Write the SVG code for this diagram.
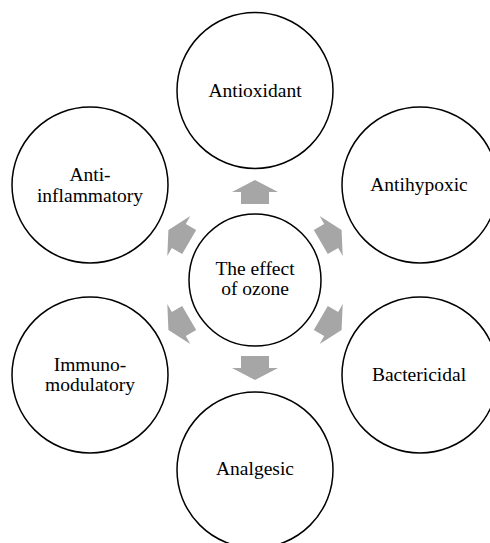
<svg xmlns="http://www.w3.org/2000/svg" width="490" height="543" viewBox="0 0 490 543">
<style>
.node circle{fill:#fff;stroke:#000;stroke-width:1.5}
.node text{font-family:"Liberation Serif","Times New Roman",serif;font-size:19.5px;fill:#000;text-anchor:middle}
.arr{fill:#a6a6a6}
</style>
<defs>
<polygon id="arrow" points="0,-12 23,0 14,0 14,12 -14,12 -14,0 -23,0"/>
</defs>
<rect width="490" height="543" fill="#fff"/>
<g id="connectors" class="arr">
<use href="#arrow" transform="translate(255,192)"/>
<use href="#arrow" transform="translate(331.2,236) rotate(60)"/>
<use href="#arrow" transform="translate(331.2,324) rotate(120)"/>
<use href="#arrow" transform="translate(255,368) rotate(180)"/>
<use href="#arrow" transform="translate(178.8,324) rotate(240)"/>
<use href="#arrow" transform="translate(178.8,236) rotate(300)"/>
</g>
<g id="center" class="node">
<circle cx="255" cy="280" r="66"/>
<text x="255" y="275">The effect</text>
<text x="255" y="295">of ozone</text>
</g>
<g id="antioxidant" class="node">
<circle cx="255" cy="90.5" r="78"/>
<text x="255" y="97">Antioxidant</text>
</g>
<g id="antihypoxic" class="node">
<circle cx="420" cy="185" r="78"/>
<text x="419" y="191">Antihypoxic</text>
</g>
<g id="bactericidal" class="node">
<circle cx="420" cy="375" r="78"/>
<text x="419" y="381">Bactericidal</text>
</g>
<g id="analgesic" class="node">
<circle cx="255" cy="470" r="78"/>
<text x="255" y="475">Analgesic</text>
</g>
<g id="immunomodulatory" class="node">
<circle cx="90" cy="375" r="78"/>
<text x="90" y="371">Immuno-</text>
<text x="90" y="390.5">modulatory</text>
</g>
<g id="antiinflammatory" class="node">
<circle cx="90" cy="185" r="78"/>
<text x="90" y="181">Anti-</text>
<text x="90" y="201.5">inflammatory</text>
</g>
</svg>
